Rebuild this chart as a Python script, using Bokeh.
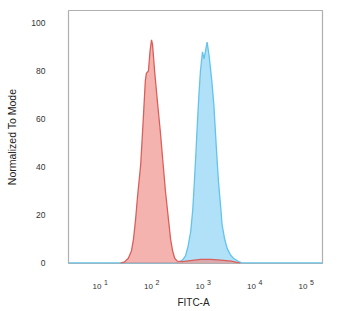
import numpy as np
from bokeh.plotting import figure
from bokeh.layouts import column
from bokeh.models import Range1d, FixedTicker, Label
from bokeh.core.properties import value
from bokeh.embed import file_html
from bokeh.resources import INLINE

# log10(FITC-A) positions and normalized-to-mode values
red_log = [1.40, 1.48, 1.55, 1.61, 1.65, 1.69, 1.73, 1.79, 1.84, 1.88, 1.90, 1.94, 1.97,
           2.00, 2.02, 2.06, 2.12, 2.17, 2.23, 2.27, 2.33, 2.37, 2.41, 2.45, 2.50, 2.60,
           2.75, 2.95, 3.15, 3.35, 3.55, 3.72]
red_val = [0, 0.5, 2, 5, 10, 18, 28, 41, 60, 76, 79, 80, 88,
           93, 91, 80, 66, 55, 40, 30, 18, 10, 5, 2, 0.8, 0.6,
           1.0, 1.5, 1.5, 1.2, 0.8, 0]

blue_log = [0.388, 2.47, 2.55, 2.60, 2.66, 2.71, 2.76, 2.80, 2.83, 2.86, 2.89, 2.92, 2.95,
            2.99, 3.02, 3.08, 3.12, 3.17, 3.21, 3.24, 3.27, 3.30, 3.34, 3.37, 3.42, 3.47,
            3.53, 3.59, 3.69, 3.77, 5.32]
blue_val = [0, 0, 0.5, 1.2, 3, 7, 13, 22, 33, 45, 58, 70, 80,
            88, 85, 92, 86, 76, 66, 55, 44, 34, 24, 16, 10, 6,
            3.5, 2, 0.6, 0, 0]

x_ticks = [10, 100, 1000, 10000, 100000]
x_tick_base = ["10", "10", "10", "10", "10"]
x_tick_exponents = ["1", "2", "3", "4", "5"]
y_ticks = [0, 20, 40, 60, 80, 100]

FONT = "Liberation Sans"
x_range = Range1d(10 ** 0.388, 10 ** 5.32)

# ---- main histogram panel ----
p = figure(width=350, height=270, x_axis_type="log", x_axis_location=None,
           x_range=x_range, y_range=Range1d(-0.2, 105.2),
           output_backend="svg", toolbar_location=None,
           min_border_left=68, min_border_right=28, min_border_top=10, min_border_bottom=7)

bx = 10 ** np.array(blue_log)
rx = 10 ** np.array(red_log)

p.varea(x=bx, y1=0, y2=blue_val, fill_color="#b0e1f8", fill_alpha=1.0)
p.line(x=bx, y=blue_val, line_color="#62c4ea", line_width=1.3)
p.varea(x=rx, y1=0, y2=red_val, fill_color="#f08a86", fill_alpha=0.65)
p.line(x=rx, y=red_val, line_color="#d9605a", line_width=1.3)

p.grid.visible = False
p.outline_line_color = "#b0b0b0"
p.outline_line_width = 1.2
p.background_fill_color = "white"
p.border_fill_color = "white"

ax = p.yaxis[0]
ax.ticker = FixedTicker(ticks=y_ticks)
ax.axis_line_color = None
ax.major_tick_line_color = None
ax.minor_tick_line_color = None
ax.major_label_text_font = FONT
ax.major_label_text_font_size = "8.5px"
ax.major_label_text_color = "#333333"
ax.major_label_standoff = 17
ax.axis_label = "Normalized To Mode"
ax.axis_label_text_font = FONT
ax.axis_label_text_font_size = "10.5px"
ax.axis_label_text_font_style = "normal"
ax.axis_label_text_color = "#222222"
ax.axis_label_standoff = 10

# ---- x tick labels ("10" with raised exponent) and axis title panel ----
p2 = figure(width=350, height=41, x_axis_type="log", x_axis_location=None,
            y_axis_location=None, x_range=x_range, y_range=Range1d(0, 41),
            output_backend="svg", toolbar_location=None,
            min_border_left=68, min_border_right=28, min_border_top=0, min_border_bottom=0)
p2.grid.visible = False
p2.outline_line_color = None
p2.background_fill_color = "white"
p2.border_fill_color = "white"

p2.text(x=x_ticks, y=[25.3] * len(x_ticks), text=x_tick_base, x_offset=-3,
        text_align="center", text_baseline="alphabetic", text_font=value(FONT),
        text_font_size="8px", text_color="#333333")
p2.text(x=x_ticks, y=[28.7] * len(x_ticks), text=x_tick_exponents, x_offset=4,
        text_align="left", text_baseline="alphabetic", text_font=value(FONT),
        text_font_size="7px", text_color="#333333")
p2.add_layout(Label(x=125, y=9.3, x_units="screen", text="FITC-A", text_align="center",
                    text_baseline="alphabetic", text_font=FONT, text_font_size="10px",
                    text_color="#222222"))

layout = column(p, p2, spacing=0)
open("out.html", "w").write(file_html(layout, INLINE))
